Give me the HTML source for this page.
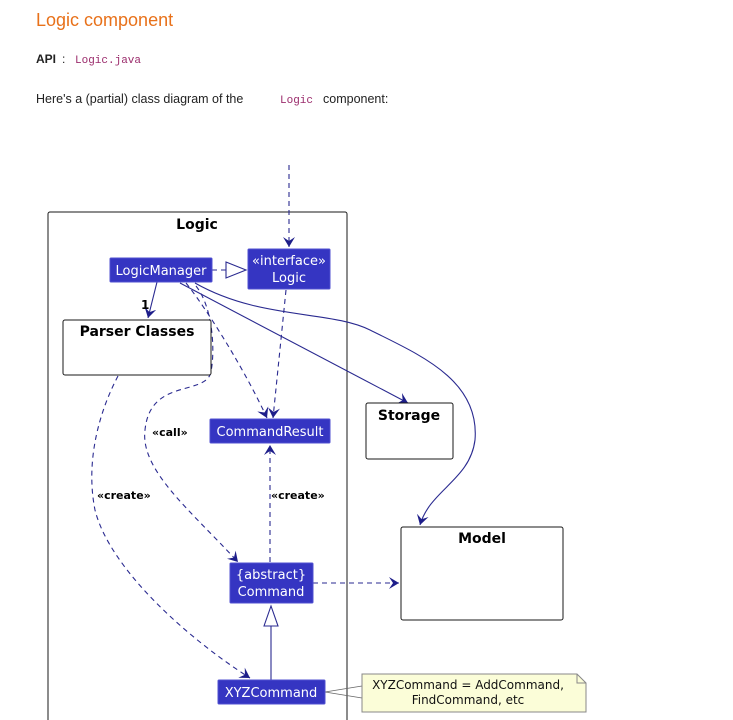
<!DOCTYPE html>
<html><head><meta charset="utf-8"><style>
body{margin:0;background:#fff;width:733px;height:720px;overflow:hidden;font-family:"Liberation Sans",sans-serif}
</style></head><body>
<svg width="733" height="720" xmlns="http://www.w3.org/2000/svg" style="position:absolute;left:0;top:0">
<defs>
<marker id="a" markerWidth="12" markerHeight="12" refX="10" refY="6" orient="auto" markerUnits="userSpaceOnUse">
<path d="M0,0 L10,6 L0,12 L4,6 Z" fill="#1e1e8a"/></marker>
</defs>
<text x="36" y="26" font-size="18" fill="#e8711a">Logic component</text>
<text x="36" y="63" font-size="12" font-weight="bold" fill="#222">API</text>
<text x="62" y="63" font-size="12" fill="#222">:</text>
<text x="75" y="63" font-size="11" font-family="Liberation Mono,monospace" fill="#9b2c6c">Logic.java</text>
<text x="36" y="103" font-size="12.5" fill="#222">Here's a (partial) class diagram of the</text>
<text x="280" y="103" font-size="11" font-family="Liberation Mono,monospace" fill="#9b2c6c">Logic</text>
<text x="323" y="103" font-size="12.5" fill="#222">component:</text>

<rect x="48" y="212" width="299" height="520" rx="2" fill="none" stroke="#181818"/>
<text x="197" y="229" font-size="14" font-weight="bold" text-anchor="middle" font-family="DejaVu Sans,sans-serif">Logic</text>

<g fill="none" stroke="#2a2a90" stroke-width="1.1">
<path d="M289,165 L289,247" stroke-dasharray="5,4" marker-end="url(#a)"/>
<path d="M212,270 L226,270" stroke-dasharray="5,4"/>
<path d="M226,262 L246,270 L226,278 Z" fill="#fff"/>
<path d="M157,282 L148,318" marker-end="url(#a)"/>
<path d="M186,283 C200,300 240,360 267,418" stroke-dasharray="5,4" marker-end="url(#a)"/>
<path d="M286,290 L273,418" stroke-dasharray="5,4" marker-end="url(#a)"/>
<path d="M180,283 L408,403" marker-end="url(#a)"/>
<path d="M195,283 C260,320 330,310 370,330 C420,355 480,380 475,440 C470,480 430,490 420,525" marker-end="url(#a)"/>
<path d="M196,286 C215,310 215,360 210,375 C200,395 150,380 145,430 C140,470 190,510 238,562" stroke-dasharray="5,4" marker-end="url(#a)"/>
<path d="M118,376 C100,410 85,460 95,510 C110,570 190,640 250,678" stroke-dasharray="5,4" marker-end="url(#a)"/>
<path d="M270,562 L270,445" stroke-dasharray="5,4" marker-end="url(#a)"/>
<path d="M313,583 L399,583" stroke-dasharray="5,4" marker-end="url(#a)"/>
<path d="M271,680 L271,626"/>
<path d="M264,626 L271,606 L278,626 Z" fill="#fff"/>
<path d="M325,692 L362,686 M325,692 L362,698" stroke="#666" stroke-width="0.8"/>
</g>
<text x="141" y="309" font-size="12" font-weight="bold" font-family="DejaVu Sans,sans-serif">1</text>
<text x="152" y="436" font-size="11" font-weight="bold" font-family="DejaVu Sans,sans-serif">«call»</text>
<text x="97" y="499" font-size="11" font-weight="bold" font-family="DejaVu Sans,sans-serif">«create»</text>
<text x="271" y="499" font-size="11" font-weight="bold" font-family="DejaVu Sans,sans-serif">«create»</text>

<g fill="#3535c2" stroke="#5050d0">
<rect x="110" y="258" width="102" height="24" rx="1"/>
<rect x="248" y="249" width="82" height="40" rx="1"/>
<rect x="210" y="419" width="120" height="24" rx="1"/>
<rect x="230" y="563" width="83" height="40" rx="1"/>
<rect x="218" y="680" width="107" height="24" rx="1"/>
</g>
<g fill="#fff" font-size="13" text-anchor="middle" font-family="DejaVu Sans,sans-serif">
<text x="161" y="275">LogicManager</text>
<text x="289" y="265">«interface»</text>
<text x="289" y="282">Logic</text>
<text x="270" y="436">CommandResult</text>
<text x="271" y="579">{abstract}</text>
<text x="271" y="596">Command</text>
<text x="271" y="697">XYZCommand</text>
</g>

<g fill="#fff" stroke="#181818">
<rect x="63" y="320" width="148" height="55" rx="2"/>
<rect x="366" y="403" width="87" height="56" rx="2"/>
<rect x="401" y="527" width="162" height="93" rx="2"/>
</g>
<g font-size="14" font-weight="bold" text-anchor="middle" font-family="DejaVu Sans,sans-serif">
<text x="137" y="336">Parser Classes</text>
<text x="409" y="420">Storage</text>
<text x="482" y="543">Model</text>
</g>

<path d="M362,674 L577,674 L586,683 L586,712 L362,712 Z" fill="#fbfdd8" stroke="#888"/>
<path d="M577,674 L577,683 L586,683" fill="none" stroke="#888"/>
<g font-size="12" text-anchor="middle" font-family="DejaVu Sans,sans-serif" fill="#111">
<text x="468" y="689">XYZCommand = AddCommand,</text>
<text x="468" y="704">FindCommand, etc</text>
</g>
</svg>
</body></html>
